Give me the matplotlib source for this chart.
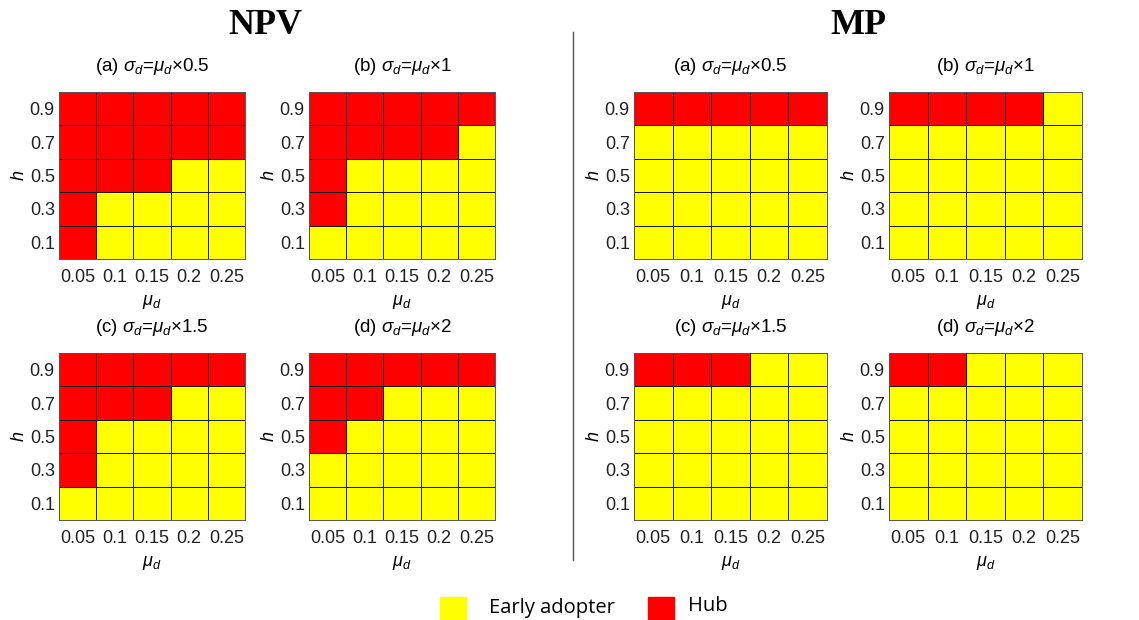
import numpy as np
import matplotlib
matplotlib.use("Agg")
import matplotlib.pyplot as plt
from matplotlib.colors import ListedColormap
from matplotlib.patches import Rectangle
from matplotlib.lines import Line2D

plt.rcParams["font.family"] = ["Liberation Sans", "DejaVu Sans"]
plt.rcParams["mathtext.fontset"] = "custom"
plt.rcParams["mathtext.it"] = "Liberation Sans:italic"
plt.rcParams["mathtext.rm"] = "Liberation Sans"

# axes categories
mu_d = ["0.05", "0.1", "0.15", "0.2", "0.25"]
h_vals = ["0.9", "0.7", "0.5", "0.3", "0.1"]  # top to bottom
panel_titles = [
    r"(a) $\sigma_d$=$\mu_d$×0.5",
    r"(b) $\sigma_d$=$\mu_d$×1",
    r"(c) $\sigma_d$=$\mu_d$×1.5",
    r"(d) $\sigma_d$=$\mu_d$×2",
]

# 1 = Hub, 0 = Early adopter; rows h=0.9..0.1, cols mu_d=0.05..0.25
npv_a = [[1, 1, 1, 1, 1],
         [1, 1, 1, 1, 1],
         [1, 1, 1, 0, 0],
         [1, 0, 0, 0, 0],
         [1, 0, 0, 0, 0]]
npv_b = [[1, 1, 1, 1, 1],
         [1, 1, 1, 1, 0],
         [1, 0, 0, 0, 0],
         [1, 0, 0, 0, 0],
         [0, 0, 0, 0, 0]]
npv_c = [[1, 1, 1, 1, 1],
         [1, 1, 1, 0, 0],
         [1, 0, 0, 0, 0],
         [1, 0, 0, 0, 0],
         [0, 0, 0, 0, 0]]
npv_d = [[1, 1, 1, 1, 1],
         [1, 1, 0, 0, 0],
         [1, 0, 0, 0, 0],
         [0, 0, 0, 0, 0],
         [0, 0, 0, 0, 0]]
mp_a = [[1, 1, 1, 1, 1],
        [0, 0, 0, 0, 0],
        [0, 0, 0, 0, 0],
        [0, 0, 0, 0, 0],
        [0, 0, 0, 0, 0]]
mp_b = [[1, 1, 1, 1, 0],
        [0, 0, 0, 0, 0],
        [0, 0, 0, 0, 0],
        [0, 0, 0, 0, 0],
        [0, 0, 0, 0, 0]]
mp_c = [[1, 1, 1, 0, 0],
        [0, 0, 0, 0, 0],
        [0, 0, 0, 0, 0],
        [0, 0, 0, 0, 0],
        [0, 0, 0, 0, 0]]
mp_d = [[1, 1, 0, 0, 0],
        [0, 0, 0, 0, 0],
        [0, 0, 0, 0, 0],
        [0, 0, 0, 0, 0],
        [0, 0, 0, 0, 0]]

YELLOW = "#ffff00"
RED = "#ff0000"
cmap = ListedColormap([YELLOW, RED])

W, H = 1139, 620
fig = plt.figure(figsize=(W / 100, H / 100), dpi=100)


def px_axes(left, top, right, bottom):
    return fig.add_axes([left / W, 1 - bottom / H, (right - left) / W, (bottom - top) / H])


def draw_panel(ax, grid, title):
    data = np.array(grid)[::-1]  # bottom row first
    ax.pcolormesh(np.arange(6), np.arange(6), data, cmap=cmap, vmin=0, vmax=1,
                  edgecolors="#1a1a1a", linewidth=0.6)
    ax.set_xlim(0, 5)
    ax.set_ylim(0, 5)
    ax.set_xticks(np.arange(5) + 0.5)
    ax.set_xticklabels(mu_d)
    ax.set_yticks(np.arange(5) + 0.5)
    ax.set_yticklabels(h_vals[::-1])
    ax.tick_params(length=0, labelsize=13, colors="#222222")
    ax.tick_params(axis="x", pad=7)
    ax.tick_params(axis="y", pad=3)
    for s in ax.spines.values():
        s.set_linewidth(0.7)
        s.set_color("#555555")
    ax.set_xlabel(r"$\mu_d$", fontsize=13, labelpad=5)
    ax.set_ylabel(r"$h$", fontsize=13, labelpad=1)
    ax.set_title(title, fontsize=13.5, pad=15)


lefts = [59, 309, 634, 889]
widths = [186, 186, 193, 193]
tops = [92, 353]
heights = 167

groups = [[npv_a, npv_b, npv_c, npv_d], [mp_a, mp_b, mp_c, mp_d]]
for g, grids in enumerate(groups):
    for i, grid in enumerate(grids):
        col = g * 2 + i % 2
        row = i // 2
        ax = px_axes(lefts[col], tops[row], lefts[col] + widths[col], tops[row] + heights)
        draw_panel(ax, grid, panel_titles[i])

fig.text(265 / W, 1 - 25 / H, "NPV", family="Liberation Serif", fontweight="bold",
         fontsize=26, ha="center", va="center")
fig.text(858 / W, 1 - 25 / H, "MP", family="Liberation Serif", fontweight="bold",
         fontsize=26, ha="center", va="center")

fig.add_artist(Line2D([573 / W, 573 / W], [1 - 32 / H, 1 - 560 / H], color="#555555", lw=1))

# legend
fig.add_artist(Rectangle((440 / W, 1 - 621 / H), 26 / W, 24 / H, color=YELLOW))
fig.text(489 / W, 1 - 608 / H, "Early adopter", family="Open Sans", fontsize=14.5,
         ha="left", va="center")
fig.add_artist(Rectangle((648 / W, 1 - 621 / H), 26 / W, 24 / H, color=RED))
fig.text(688 / W, 1 - 606 / H, "Hub", family="Open Sans", fontsize=14.5,
         ha="left", va="center")

fig.savefig("out.png", dpi=100)
